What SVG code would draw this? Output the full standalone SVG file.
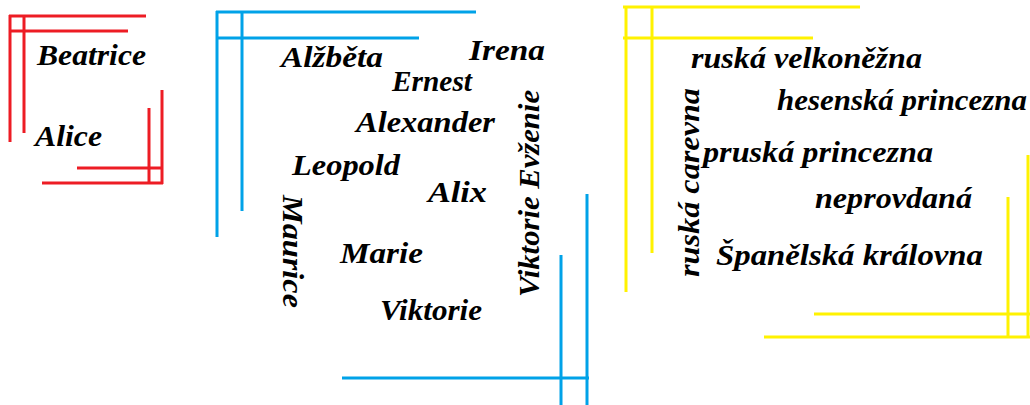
<svg xmlns="http://www.w3.org/2000/svg" width="1030" height="405" viewBox="0 0 1030 405">
<style>
.t{font-family:"Liberation Serif","DejaVu Serif",serif;font-style:italic;font-weight:bold;font-size:30px;fill:#000}
.r{stroke:#ED1C24;stroke-width:3;fill:none}
.b{stroke:#00A2E8;stroke-width:3;fill:none}
.y{stroke:#FFF200;stroke-width:3;fill:none}
</style>
<rect width="1030" height="405" fill="#fff"/>
<g id="red-frame">
<path class="r" d="M9 16H146M9 31H128M10 15V142M24 15V133M162 90V184M149 108V184M42 183H163M77 168H163"/>
</g>
<g id="blue-frame">
<path class="b" d="M216 12H476M216 38H419M217 11V237M242 11V211M342 378H589M561 255V405M587 194V405"/>
</g>
<g id="yellow-frame">
<path class="y" d="M623 7H860M623 38H813M626 6V292M652 6V253M1008 197V338M1028 155V338M814 314H1030M764 337H1030"/>
</g>
<g id="red-names">
<text class="t" x="37" y="65" textLength="109" lengthAdjust="spacingAndGlyphs">Beatrice</text>
<text class="t" x="35" y="146" textLength="67" lengthAdjust="spacingAndGlyphs">Alice</text>
</g>
<g id="blue-names">
<text class="t" x="281" y="67" textLength="102" lengthAdjust="spacingAndGlyphs">Alžběta</text>
<text class="t" x="469" y="60" textLength="76" lengthAdjust="spacingAndGlyphs">Irena</text>
<text class="t" x="392" y="91" textLength="80" lengthAdjust="spacingAndGlyphs">Ernest</text>
<text class="t" x="356" y="132" textLength="139" lengthAdjust="spacingAndGlyphs">Alexander</text>
<text class="t" x="292" y="175" textLength="108" lengthAdjust="spacingAndGlyphs">Leopold</text>
<text class="t" x="428" y="202" textLength="59" lengthAdjust="spacingAndGlyphs">Alix</text>
<text class="t" x="340" y="263" textLength="83" lengthAdjust="spacingAndGlyphs">Marie</text>
<text class="t" x="380" y="320" textLength="102" lengthAdjust="spacingAndGlyphs">Viktorie</text>
<text class="t" transform="translate(539 297) rotate(-90)" textLength="207" lengthAdjust="spacingAndGlyphs">Viktorie Evženie</text>
<text class="t" transform="translate(283 195) rotate(90)" textLength="113" lengthAdjust="spacingAndGlyphs">Maurice</text>
</g>
<g id="yellow-titles">
<text class="t" x="691" y="68" textLength="231" lengthAdjust="spacingAndGlyphs">ruská velkoněžna</text>
<text class="t" x="777" y="110" textLength="250" lengthAdjust="spacingAndGlyphs">hesenská princezna</text>
<text class="t" x="703" y="162" textLength="230" lengthAdjust="spacingAndGlyphs">pruská princezna</text>
<text class="t" x="815" y="208" textLength="157" lengthAdjust="spacingAndGlyphs">neprovdaná</text>
<text class="t" x="716" y="265" textLength="267" lengthAdjust="spacingAndGlyphs">Španělská královna</text>
<text class="t" transform="translate(699 277) rotate(-90)" textLength="189" lengthAdjust="spacingAndGlyphs">ruská carevna</text>
</g>
</svg>
